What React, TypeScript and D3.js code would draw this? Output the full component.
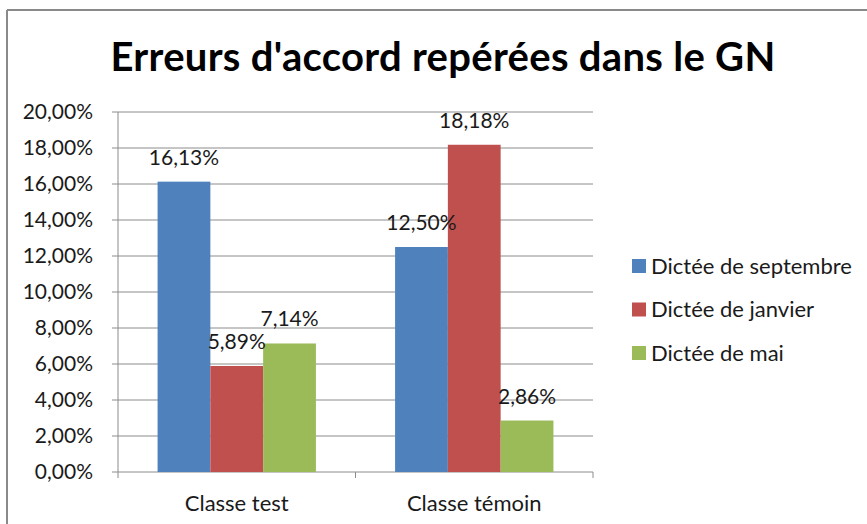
import React from 'react';
import * as d3 from 'd3';

const categories = ['Classe test', 'Classe témoin'];
const seriesNames = ['Dictée de septembre', 'Dictée de janvier', 'Dictée de mai'];
const septembre = [0.1613, 0.125];
const janvier = [0.0589, 0.1818];
const mai = [0.0714, 0.0286];
const yTicks = [0, 0.02, 0.04, 0.06, 0.08, 0.1, 0.12, 0.14, 0.16, 0.18, 0.2];
const colors = ['#4F81BD', '#C0504D', '#9BBB59'];

const W = 867;
const H = 524;
const FONT = 'Lato, "Open Sans", sans-serif';

const fmt = (v: number) => (v * 100).toFixed(2).replace('.', ',') + '%';

const App = () => {
  const values = [septembre, janvier, mai];

  const x = d3.scaleBand().domain(categories).range([118, 593]).paddingInner(0).paddingOuter(0);
  const xs = d3.scaleBand().domain(seriesNames).range([0, x.bandwidth()]).paddingInner(0).paddingOuter(0.75);
  const y = d3.scaleLinear().domain([0, 0.2]).range([472, 112]);

  const bottom = y(0);
  const catTicks = [118, ...categories.map((c) => (x(c) as number) + x.bandwidth())];

  return (
    <svg
      width={W}
      height={H}
      style={{ position: 'absolute', left: 0, top: 0, background: '#fff' }}
      fontFamily={FONT}
    >
      <rect x={0} y={0} width={W} height={H} fill="#fff" />
      {/* chart border (only top/left visible) */}
      <line x1={7} y1={10} x2={W} y2={10} stroke="#8a8a8a" strokeWidth={2} />
      <line x1={7} y1={10} x2={7} y2={H} stroke="#8a8a8a" strokeWidth={2} />

      <text x={443} y={71} textAnchor="middle" fontSize={40} fontWeight="bold" letterSpacing={0.3} fill="#000">
        Erreurs d'accord repérées dans le GN
      </text>

      {/* gridlines and y labels */}
      {yTicks.map((t) => (
        <g key={t}>
          <line x1={112} x2={593} y1={y(t)} y2={y(t)} stroke="#8c8c8c" strokeWidth={1} />
          <text x={93} y={y(t)} dy="0.35em" textAnchor="end" fontSize={21} fill="#1a1a1a">
            {fmt(t)}
          </text>
        </g>
      ))}
      <line x1={118} x2={118} y1={y(0.2)} y2={bottom} stroke="#8c8c8c" />
      {catTicks.map((t, i) => (
        <line key={i} x1={t} x2={t} y1={bottom} y2={bottom + 6} stroke="#8c8c8c" />
      ))}

      {/* bars */}
      {seriesNames.map((s, si) =>
        categories.map((c, ci) => {
          const bx = (x(c) as number) + (xs(s) as number);
          const v = values[si][ci];
          return (
            <rect
              key={s + c}
              x={bx}
              y={y(v)}
              width={xs.bandwidth()}
              height={bottom - y(v)}
              fill={colors[si]}
            />
          );
        })
      )}

      {/* data labels */}
      {seriesNames.map((s, si) =>
        categories.map((c, ci) => {
          const cx = (x(c) as number) + (xs(s) as number) + xs.bandwidth() / 2;
          const v = values[si][ci];
          return (
            <text key={'l' + s + c} x={cx} y={y(v) - 17} textAnchor="middle" fontSize={21} fill="#1a1a1a">
              {fmt(v)}
            </text>
          );
        })
      )}

      {/* category labels */}
      {categories.map((c) => (
        <text
          key={c}
          x={(x(c) as number) + x.bandwidth() / 2}
          y={511}
          textAnchor="middle"
          fontSize={22}
          fill="#1a1a1a"
        >
          {c}
        </text>
      ))}

      {/* legend */}
      {seriesNames.map((s, i) => {
        const cy = 266 + i * 43.5;
        return (
          <g key={s}>
            <rect x={632} y={cy - 7} width={14} height={14} fill={colors[i]} />
            <text x={651} y={cy} dy="0.35em" fontSize={22} fill="#1a1a1a">
              {s}
            </text>
          </g>
        );
      })}
    </svg>
  );
};

export default App;
